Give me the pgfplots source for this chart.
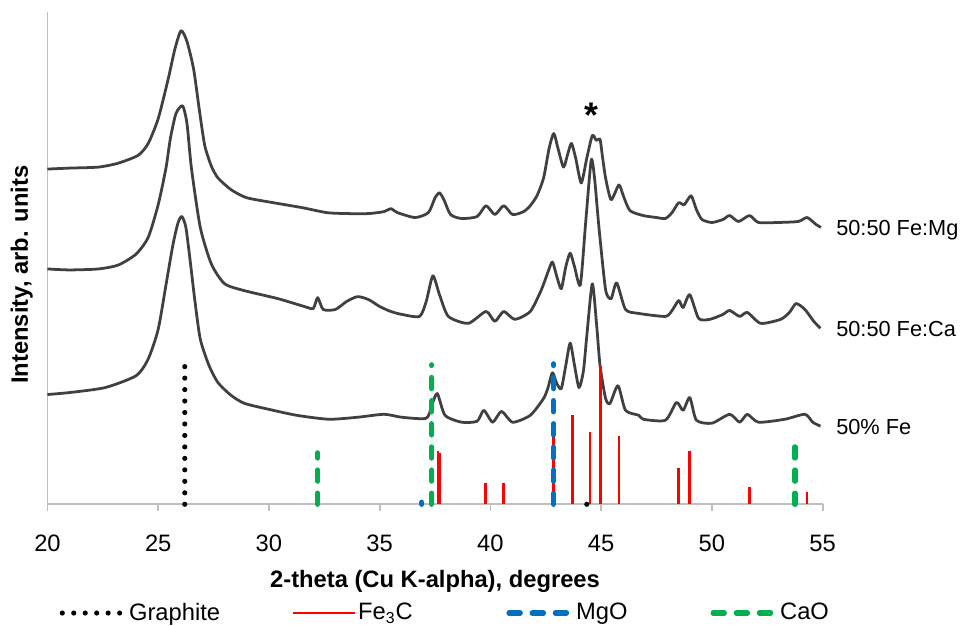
\documentclass[border=0pt]{standalone}
\usepackage{fontspec}
\setmainfont{Liberation Sans}
\usepackage{pgfplots}
\pgfplotsset{compat=1.18}

\definecolor{trace}{HTML}{404040}
\definecolor{axgray}{HTML}{BFBFBF}
\definecolor{mgoblue}{HTML}{0070C0}
\definecolor{caogreen}{HTML}{00B050}

% measured traces, intensity in arbitrary units (already offset)
\pgfplotstableread{
tt   I
20.0 339
21.0 340
22.3 341
23.2 345
24.1 353
24.55 365
25.0 390
25.45 430
25.75 460
26.03 479
26.3 468
26.6 440
26.85 400
27.1 363
27.4 342
27.7 330
28.3 318
29.0 310
30.2 305
31.5 300
32.6 295
33.5 294
34.5 294
35.2 296
35.5 299
35.8 295
36.6 290
37.2 295
37.5 310
37.7 315
37.9 308
38.2 293
38.7 289
39.4 291
39.8 302
40.2 293
40.6 302
41.0 293
41.5 296
41.8 302
42.1 312
42.4 330
42.65 360
42.86 375
43.05 360
43.3 341
43.5 355
43.66 365
43.85 350
44.1 325
44.35 350
44.6 373
44.78 368
44.95 369
45.05 353
45.2 330
45.45 308
45.8 323
46.0 312
46.3 297
46.9 292
47.5 290
47.9 289
48.2 295
48.5 305
48.75 303
49.06 312
49.3 298
49.55 288
50.0 285
50.5 288
50.8 292
51.2 286
51.7 292
52.1 285
53.0 285
53.9 286
54.3 290
54.7 283
54.92 280
}\femg

\pgfplotstableread{
tt   I
20.0 238
21.0 237
22.3 238
23.2 242
24.0 253
24.55 270
25.0 303
25.35 340
25.55 370
25.8 395
26.1 403
26.3 385
26.5 340
26.9 280
27.4 243
28.0 223
28.9 216
30.4 208
31.6 200
32.0 198
32.2 209
32.45 197
33.0 197
33.5 205
34.0 210
34.5 207
35.0 200
35.5 195
36.0 192
36.8 190
37.1 205
37.4 231
37.7 212
38.1 190
39.0 183
39.8 195
40.2 185
40.6 195
41.1 187
41.8 195
42.3 217
42.6 235
42.8 245
43.0 230
43.2 218
43.4 240
43.6 254
43.8 240
44.06 222
44.3 285
44.55 348
44.7 330
44.9 280
45.2 217
45.45 208
45.7 224
46.1 197
46.7 193
47.9 190
48.2 196
48.5 206
48.7 199
49.0 212
49.4 188
49.9 187
50.5 192
50.8 196
51.25 190
51.6 194
52.2 183
53.1 187
53.5 194
53.8 203
54.2 197
54.6 185
54.9 178
}\feca

\pgfplotstableread{
tt   I
20.0 111
21.0 113
22.6 118
24.0 130
24.55 147
25.0 177
25.36 223
25.67 263
25.9 285
26.07 291
26.25 280
26.45 245
26.65 207
26.9 167
27.3 140
27.7 123
28.3 110
28.9 102
30.0 96
31.25 90
32.7 86
34.0 88
35.2 91
36.0 88
37.1 87
37.35 100
37.6 112
37.95 90
38.7 83
39.4 84
39.7 95
40.1 83
40.5 94
41.0 83
41.8 90
42.4 107
42.6 118
42.8 133
43.0 122
43.2 117
43.4 140
43.6 163
43.8 140
44.0 118
44.2 135
44.35 170
44.6 223
44.8 180
44.95 140
45.2 107
45.4 102
45.76 120
46.1 95
46.7 90
46.9 86
47.9 85
48.4 103
48.7 95
49.0 108
49.3 85
50.0 82
50.8 91
51.25 83
51.6 91
52.1 83
53.3 86
54.2 91
54.55 83
54.9 79
}\fe

\begin{document}
\begin{tikzpicture}
\begin{axis}[
    scale only axis,
    width=392pt, height=249pt,
    xmin=20, xmax=55, ymin=0, ymax=498,
    axis x line*=bottom, axis y line*=left,
    axis line style={-, draw=axgray, line width=0.9pt},
    xtick={20,25,...,55}, ytick=\empty,
    tick align=outside, major tick length=3.5pt,
    tick style={draw=axgray, line width=0.9pt},
    /pgf/number format/assume math mode=true,
    ticklabel style={font=\fontsize{12}{14}\selectfont},
    xticklabel style={yshift=-8.5pt},
    xlabel={2-theta (Cu K-alpha), degrees},
    xlabel style={font=\fontsize{12}{14}\selectfont\bfseries, at={(rel axis cs:0.5,0)}, anchor=center, yshift=-39pt},
    ylabel={Intensity, arb. units},
    ylabel style={font=\fontsize{12}{14}\selectfont\bfseries, at={(rel axis cs:0,0.466)}, anchor=center, yshift=13pt},
    clip=false,
    legend columns=4,
    legend cell align=left,
    legend image code/.code={\draw[#1] (0pt,0pt) -- (31.5pt,0pt);},
    legend style={at={(rel axis cs:0,0)}, anchor=west, xshift=6pt, yshift=-55pt,
        draw=none, fill=none, inner sep=0pt,
        nodes={inner sep=0pt, font=\fontsize{12}{14}\selectfont},
        /tikz/every odd column/.append style={column sep=1pt}},
]
\addplot[trace, line width=1.4pt, smooth, tension=0.4, line join=round, forget plot] table[x=tt, y=I] {\femg};
\addplot[trace, line width=1.4pt, smooth, tension=0.4, line join=round, forget plot] table[x=tt, y=I] {\feca};
\addplot[trace, line width=1.4pt, smooth, tension=0.4, line join=round, forget plot] table[x=tt, y=I] {\fe};

% reference patterns
\addplot[ycomb, black, line width=2.6pt, line cap=round, dash pattern=on 0pt off 5.8pt] coordinates {(26.2,143) (44.35,7)};
\addlegendentry{\makebox[82pt][l]{Graphite}}
\addplot[ycomb, red, line width=1.3pt] coordinates {
(37.63,54) (37.72,52) (39.78,22) (40.6,22) (42.86,74) (43.7,90) (44.5,73)
(44.97,140) (45.8,69) (48.5,37) (49.0,54) (51.7,17) (54.3,12)};
\addlegendentry{\makebox[75pt][l]{Fe\textsubscript{3}C}}
\addplot[ycomb, mgoblue, line width=2.7pt, line cap=round, dash pattern=on 5.6pt off 6.1pt] coordinates {(42.85,142) (36.9,2)};
\addlegendentry{\makebox[68pt][l]{MgO}}
\addplot[ycomb, caogreen, line width=2.7pt, line cap=round, dash pattern=on 5.6pt off 6.1pt] coordinates {(32.2,52) (37.35,141) (53.75,67)};
\addlegendentry{CaO}

\node[anchor=west, font=\fontsize{11}{13}\selectfont] at (axis cs:55.3,277) {50:50 Fe:Mg};
\node[anchor=west, font=\fontsize{11}{13}\selectfont] at (axis cs:55.3,177) {50:50 Fe:Ca};
\node[anchor=west, font=\fontsize{11}{13}\selectfont] at (axis cs:55.3,78) {50\% Fe};
\node[anchor=base, font=\fontsize{18}{18}\selectfont\bfseries] at (axis cs:44.55,381) {*};
\end{axis}
\useasboundingbox (-24pt,-61.5pt) rectangle (458.5pt,255pt);
\end{tikzpicture}
\end{document}
